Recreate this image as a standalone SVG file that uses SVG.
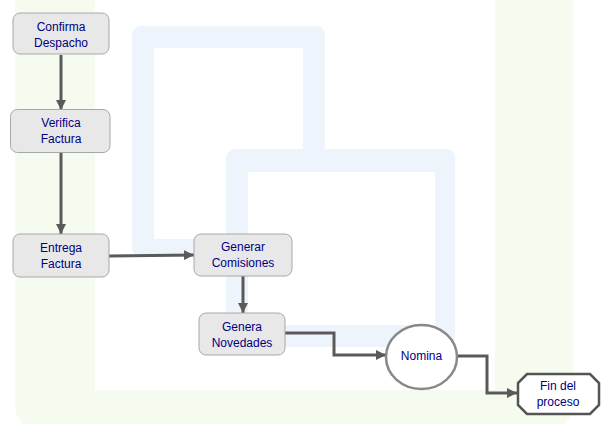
<svg xmlns="http://www.w3.org/2000/svg" width="609" height="424" viewBox="0 0 609 424">
<defs>
<style>
.node rect{fill:#e8e8e8;stroke:#a8a8a8;stroke-width:1}
.lbl{font-family:"Liberation Sans",Arial,sans-serif;font-size:12px;fill:#000080;text-anchor:middle}
.conn{fill:none;stroke:#5a5a5a;stroke-width:3;marker-end:url(#arr)}
.bgblue{fill:#edf4fc}
.bgwhite{fill:#ffffff}
</style>
<marker id="arr" markerUnits="userSpaceOnUse" markerWidth="10" markerHeight="10" viewBox="0 0 10 10" refX="10" refY="5" orient="auto">
<path d="M0,0 L10,5 L0,10 z" fill="#5a5a5a"/>
</marker>
</defs>
<rect width="609" height="424" fill="#ffffff"/>
<g id="background">
<rect x="15" y="-60" width="558" height="490" rx="24" fill="#f5fcef"/>
<rect x="95" y="-60" width="400" height="450" fill="#ffffff"/>
<rect class="bgblue" x="132" y="26" width="193" height="231" rx="9"/>
<rect class="bgwhite" x="154" y="48" width="149" height="191"/>
<rect class="bgblue" x="226" y="149" width="229" height="198" rx="9"/>
<rect class="bgwhite" x="248" y="172" width="187" height="153"/>
</g>
<g id="connectors">
<path class="conn" d="M61,55 V110"/>
<path class="conn" d="M61,153 V234"/>
<path class="conn" d="M109,256 L194,255"/>
<path class="conn" d="M243,276 V313"/>
<path class="conn" d="M285,333 H334 V355 H386"/>
<path class="conn" d="M457,356 H487 V393 H517"/>
</g>
<g id="confirma-despacho" class="node">
<rect x="13" y="13" width="96" height="41" rx="7"/>
<text class="lbl" x="61" y="31">Confirma</text>
<text class="lbl" x="61" y="47">Despacho</text>
</g>
<g id="verifica-factura" class="node">
<rect x="10.5" y="109.5" width="99.5" height="43" rx="7"/>
<text class="lbl" x="61" y="127">Verifica</text>
<text class="lbl" x="61" y="143">Factura</text>
</g>
<g id="entrega-factura" class="node">
<rect x="13" y="234" width="96" height="43" rx="7"/>
<text class="lbl" x="61" y="252">Entrega</text>
<text class="lbl" x="61" y="268">Factura</text>
</g>
<g id="generar-comisiones" class="node">
<rect x="194" y="234" width="98" height="42" rx="7"/>
<text class="lbl" x="243" y="251">Generar</text>
<text class="lbl" x="243" y="267">Comisiones</text>
</g>
<g id="genera-novedades" class="node">
<rect x="199" y="313" width="86" height="42" rx="7"/>
<text class="lbl" x="242" y="331">Genera</text>
<text class="lbl" x="242" y="347">Novedades</text>
</g>
<g id="nomina">
<ellipse cx="421.5" cy="357" rx="35.5" ry="32" fill="#ffffff" stroke="#888888" stroke-width="2.5"/>
<text class="lbl" x="421.5" y="360">Nomina</text>
</g>
<g id="fin-del-proceso">
<path d="M527,374 H590 L599,383 V405 L590,414 H527 L518,405 V383 Z" fill="#ffffff" stroke="#555555" stroke-width="2.5"/>
<text class="lbl" x="558" y="390">Fin del</text>
<text class="lbl" x="558" y="406">proceso</text>
</g>
</svg>
